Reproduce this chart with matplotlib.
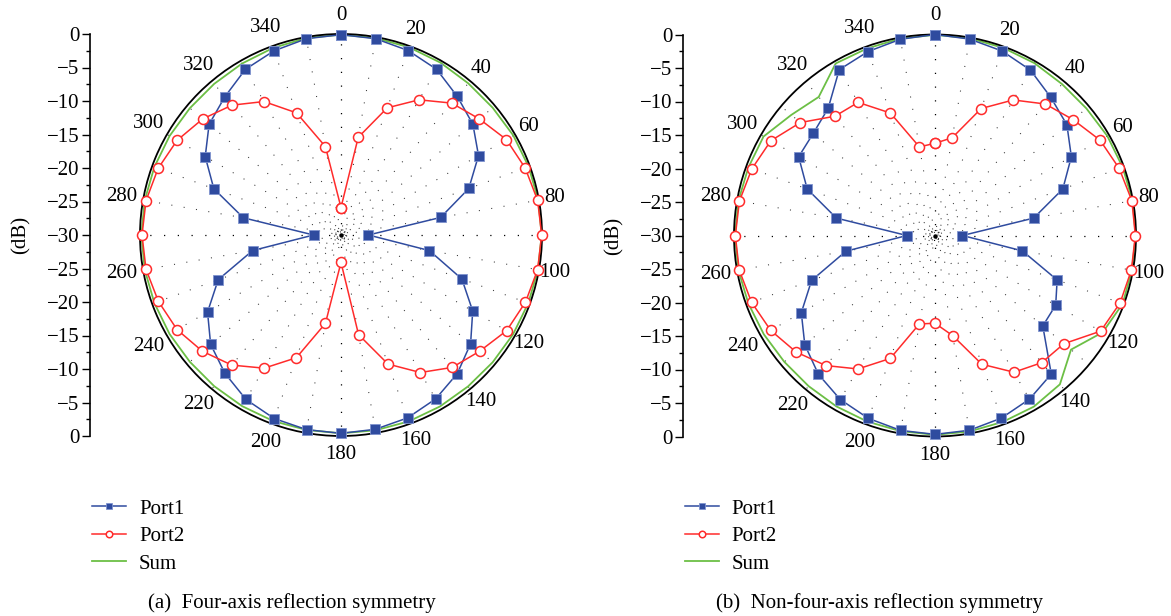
import numpy as np
import matplotlib
matplotlib.use("Agg")
import matplotlib.pyplot as plt
from matplotlib.ticker import FixedLocator, MultipleLocator

plt.rcParams["font.family"] = ["Liberation Serif", "DejaVu Serif"]
plt.rcParams["axes.unicode_minus"] = True

# Measurement angles (degrees) and reflected power per port (dB)
angles_deg = list(range(0, 360, 10))

a_port1 = [-0.1, -0.25, -0.7, -1.45, -3.0, -4.3, -6.3, -9.7, -14.9, -25.9,
           -16.6, -10.8, -7.3, -4.75, -3.0, -1.75, -0.95, -0.55, -0.4, -0.5,
           -0.85, -1.65, -3.05, -4.6, -7.0, -10.5, -16.6, -25.9, -15.2, -9.8,
           -6.6, -4.3, -3.05, -1.45, -0.75, -0.25]
a_port2 = [-25.9, -15.2, -9.8, -6.7, -4.3, -3.05, -1.5, -0.75, -0.2, -0.05,
           -0.2, -0.7, -1.45, -3.0, -4.2, -6.3, -9.5, -14.9, -25.9, -16.6,
           -10.5, -7.05, -4.65, -3.0, -1.75, -1.0, -0.45, -0.3, -0.45, -0.95,
           -1.75, -3.05, -4.7, -7.0, -10.6, -16.6]
a_sum = [-0.1, -0.15, -0.2, -0.3, -0.45, -0.45, -0.3, -0.2, -0.1, -0.05,
         -0.15, -0.25, -0.35, -0.45, -0.5, -0.45, -0.4, -0.4, -0.4, -0.45,
         -0.45, -0.5, -0.55, -0.55, -0.45, -0.35, -0.25, -0.2, -0.25, -0.35,
         -0.45, -0.55, -0.55, -0.45, -0.3, -0.15]

b_port1 = [0.0, -0.23, -0.7, -1.5, -3.1, -4.3, -6.5, -9.7, -15.05, -25.9,
           -16.75, -10.6, -9.2, -9.0, -3.0, -1.8, -1.0, -0.48, -0.32, -0.46,
           -0.95, -1.73, -2.94, -4.63, -6.96, -10.4, -16.5, -25.8, -15.06, -9.7,
           -6.5, -6.28, -5.2, -1.42, -0.78, -0.26]
b_port2 = [-16.24, -15.18, -9.83, -6.64, -4.38, -3.1, -1.55, -0.74, -0.16, -0.1,
           -0.24, -0.6, -1.45, -4.88, -5.22, -6.44, -9.55, -14.83, -16.9, -16.6,
           -10.47, -7.0, -4.66, -2.94, -1.68, -0.86, -0.33, -0.2, -0.36, -0.91,
           -1.71, -3.77, -6.76, -7.06, -10.55, -16.57]
b_sum = [-0.05, -0.1, -0.2, -0.3, -0.5, -0.5, -0.3, -0.2, -0.05, -0.05,
         -0.15, -0.2, -1.1, -3.5, -1.0, -0.5, -0.4, -0.3, -0.25, -0.35,
         -0.45, -0.55, -0.65, -0.65, -0.5, -0.35, -0.2, -0.15, -0.2, -0.35,
         -0.45, -2.0, -3.0, -0.35, -0.3, -0.15]

angle_labels = [str(a) for a in range(0, 360, 20)]
scale_ticks = list(range(-30, 31, 5))
series_names = ["Port1", "Port2", "Sum"]
captions = ["(a)  Four-axis reflection symmetry",
            "(b)  Non-four-axis reflection symmetry"]

BLUE = "#2f4b9f"
BLUE_EDGE = "#7f93cf"
RED = "#ff2b2b"
GREEN = "#6cbf45"
FS = 15

W, H = 1171, 616
fig = plt.figure(figsize=(W / 100, H / 100), dpi=100)

R_PX = 201
RMIN, RMAX = -30, 0


def closed(vals):
    return np.append(vals, vals[0])


theta = np.deg2rad(angles_deg)
theta_c = np.append(theta, theta[0])


def draw_grid(ax):
    # dotted spokes every 10 degrees
    for i, a in enumerate(range(0, 360, 10)):
        t = np.deg2rad(a)
        if a % 90 == 0:
            ls, lw, col = (2, (1, 10)), 0.9, "black"
        else:
            ls, lw, col = ((i * 3.7) % 10, (1, 11)), 0.75, "0.2"
        ax.plot([t, t], [RMIN, RMAX], color=col, lw=lw, ls=ls, zorder=1)
    ring = np.linspace(0, 2 * np.pi, 200)
    ax.plot(ring, np.full_like(ring, RMIN + 30 * 5 / R_PX), color="black",
            lw=0.8, ls=(0, (1, 2.5)), zorder=1)
    ax.plot([0], [RMIN], marker="o", ms=2.2, color="black", zorder=1)


def polar_panel(cx, cy, scale_x, p1, p2, sm, caption, cap_x):
    left = (cx - R_PX) / W
    bottom = 1 - (cy + R_PX) / H
    ax = fig.add_axes([left, bottom, 2 * R_PX / W, 2 * R_PX / H],
                      projection="polar")
    ax.set_theta_zero_location("N")
    ax.set_theta_direction(-1)
    ax.set_ylim(RMIN, RMAX)

    ax.set_xticks(np.deg2rad(range(0, 360, 10)))
    ax.set_xticklabels([])
    ax.tick_params(axis="x", direction="in", length=4, width=0.9,
                   color="black", pad=0)
    ax.set_yticks([])
    ax.grid(False)
    ax.spines["polar"].set_linewidth(1.3)
    ax.spines["polar"].set_color("black")
    draw_grid(ax)

    l1, = ax.plot(theta_c, closed(p1), color=BLUE, lw=1.1, marker="s",
                  ms=6.8, mfc=BLUE, mec=BLUE_EDGE, mew=0.6, clip_on=False,
                  zorder=3)
    l2, = ax.plot(theta_c, closed(p2), color=RED, lw=1.1, marker="o",
                  ms=7.2, mfc="white", mec=RED, mew=1.1, clip_on=False,
                  zorder=4)
    l3, = ax.plot(theta_c, closed(sm), color=GREEN, lw=1.3, clip_on=False,
                  zorder=2.5)

    for lab in angle_labels:
        a = np.deg2rad(float(lab))
        r_px = 219.5 - 3.0 * np.sin(a)
        ax.text(a, (r_px - R_PX) / R_PX * 30, lab, ha="center", va="center",
                fontsize=FS, clip_on=False)

    # dB scale alongside the polar plot
    sa = fig.add_axes([scale_x / W, bottom, 0.0005, 2 * R_PX / H])
    sa.set_ylim(-30, 30)
    sa.yaxis.set_major_locator(FixedLocator(scale_ticks))
    sa.set_yticklabels([f"{abs(t) - 30}".replace("-", "\u2212")
                        for t in scale_ticks])
    sa.yaxis.set_minor_locator(MultipleLocator(2.5))
    sa.tick_params(axis="y", which="major", direction="out", length=6,
                   width=1.0, labelsize=FS, pad=1.5)
    sa.tick_params(axis="y", which="minor", direction="out", length=3,
                   width=1.0)
    sa.set_xticks([])
    for s in ("top", "right", "bottom"):
        sa.spines[s].set_visible(False)
    sa.spines["left"].set_linewidth(1.2)
    sa.patch.set_visible(False)
    fig.text((scale_x - 69) / W, 1 - cy / H, "(dB)", rotation=90,
             ha="center", va="center", fontsize=FS)

    fig.legend([l1, l2, l3], series_names,
               loc="upper left",
               bbox_to_anchor=((scale_x + 2) / W, 1 - 499 / H),
               frameon=False, fontsize=FS, handlelength=1.65,
               handletextpad=0.6, labelspacing=0.38, markerscale=0.65,
               borderaxespad=0, borderpad=0)

    fig.text(cap_x / W, 1 - 603 / H, caption, ha="center", va="center",
             fontsize=FS)


polar_panel(341, 235, 90, a_port1, a_port2, a_sum, captions[0], 292)
polar_panel(935, 235.5, 683, b_port1, b_port2, b_sum, captions[1], 879)

fig.savefig("out.png", dpi=100)
